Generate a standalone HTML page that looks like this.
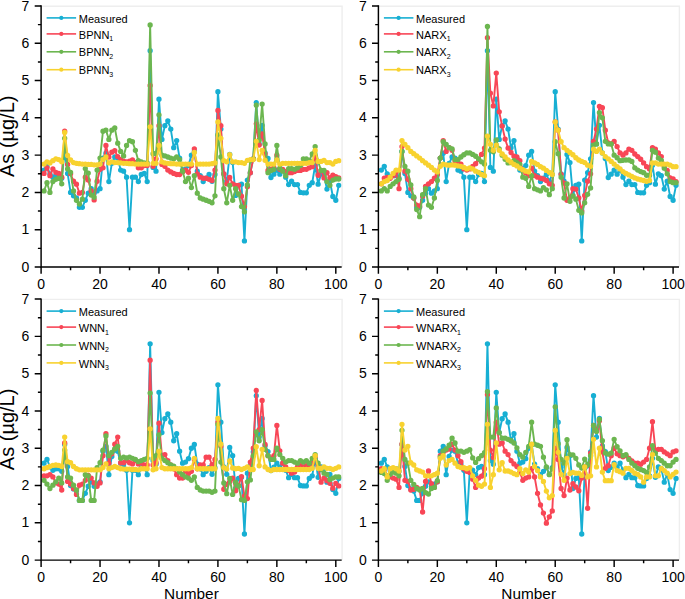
<!DOCTYPE html>
<html><head><meta charset="utf-8"><style>
html,body{margin:0;padding:0;background:#fff;width:685px;height:599px;overflow:hidden}
svg{display:block}
text{font-family:"Liberation Sans", sans-serif;fill:#000}
.t{font-size:14px}
.yl{font-size:20px}
.xl{font-size:15.4px}
.lg{font-size:11px}
.sub{font-size:7px}
</style></head><body>
<svg width="685" height="599" viewBox="0 0 685 599">
<defs><clipPath id="ctl"><rect x="41.1" y="2.9" width="300.59" height="264.1"/></clipPath><clipPath id="ctr"><rect x="378.4" y="2.9" width="300.59" height="264.1"/></clipPath><clipPath id="cbl"><rect x="41.1" y="296.1" width="300.59" height="264"/></clipPath><clipPath id="cbr"><rect x="378.4" y="296.1" width="300.59" height="264"/></clipPath></defs>
<path d="M41.1 6.2H342.09V267" fill="none" stroke="#eeeeee" stroke-width="1.4"/>
<g clip-path="url(#ctl)"><path d="M44.05 170.05 46.99 166.32 49.94 173.78 52.89 177.13 55.84 175.64 58.78 175.64 61.73 178.25 64.68 151.4 67.62 173.4 70.57 192.42 73.52 195.78 76.46 198.01 79.41 207.34 82.36 207.34 85.31 200.25 88.25 193.17 91.2 188.69 94.15 193.17 97.09 190.93 100.04 188.69 102.99 158.11 105.93 153.27 108.88 181.61 111.83 163.33 114.78 156.99 117.72 158.11 120.67 170.05 123.62 171.16 126.56 177.13 129.51 229.71 132.46 177.13 135.4 177.13 138.35 181.61 141.3 174.52 144.25 173.4 147.19 181.61 150.14 50.72 153.09 167.44 156.03 171.16 158.98 99.19 161.93 139.47 164.87 125.67 167.82 120.82 170.77 129.03 173.72 147.67 176.66 140.59 179.61 158.11 182.56 170.05 185.5 168.93 188.45 165.57 191.4 155.13 194.34 151.4 197.29 171.16 200.24 175.64 203.19 181.61 206.13 178.25 209.08 174.52 212.03 181.23 214.97 174.52 217.92 91.74 220.87 129.03 223.81 173.78 226.76 181.23 229.71 154.38 232.66 162.59 235.6 195.4 238.55 185.33 241.5 184.22 244.44 240.9 247.39 180.11 250.34 172.66 253.28 158.86 256.23 102.55 259.18 143.94 262.12 125.3 265.07 152.89 268.02 158.49 270.97 177.5 273.91 174.15 276.86 170.05 279.81 174.15 282.75 170.05 285.7 177.13 288.65 184.59 291.6 181.23 294.54 184.59 297.49 184.59 300.44 192.42 303.38 192.79 306.33 192.79 309.28 185.33 312.22 182.72 315.17 165.2 318.12 184.22 321.07 173.78 324.01 175.64 326.96 189.06 329.91 181.23 332.85 196.52 335.8 200.25 338.75 185.33" fill="none" stroke="#17afd3" stroke-width="1.9" stroke-linejoin="round"/>
<path d="M44.04 170.05h0.02M46.98 166.32h0.02M49.93 173.78h0.02M52.88 177.13h0.02M55.83 175.64h0.02M58.77 175.64h0.02M61.72 178.25h0.02M64.67 151.4h0.02M67.61 173.4h0.02M70.56 192.42h0.02M73.51 195.78h0.02M76.45 198.01h0.02M79.4 207.34h0.02M82.35 207.34h0.02M85.3 200.25h0.02M88.24 193.17h0.02M91.19 188.69h0.02M94.14 193.17h0.02M97.08 190.93h0.02M100.03 188.69h0.02M102.98 158.11h0.02M105.92 153.27h0.02M108.87 181.61h0.02M111.82 163.33h0.02M114.77 156.99h0.02M117.71 158.11h0.02M120.66 170.05h0.02M123.61 171.16h0.02M126.55 177.13h0.02M129.5 229.71h0.02M132.45 177.13h0.02M135.39 177.13h0.02M138.34 181.61h0.02M141.29 174.52h0.02M144.24 173.4h0.02M147.18 181.61h0.02M150.13 50.72h0.02M153.08 167.44h0.02M156.02 171.16h0.02M158.97 99.19h0.02M161.92 139.47h0.02M164.86 125.67h0.02M167.81 120.82h0.02M170.76 129.03h0.02M173.71 147.67h0.02M176.65 140.59h0.02M179.6 158.11h0.02M182.55 170.05h0.02M185.49 168.93h0.02M188.44 165.57h0.02M191.39 155.13h0.02M194.33 151.4h0.02M197.28 171.16h0.02M200.23 175.64h0.02M203.18 181.61h0.02M206.12 178.25h0.02M209.07 174.52h0.02M212.02 181.23h0.02M214.96 174.52h0.02M217.91 91.74h0.02M220.86 129.03h0.02M223.8 173.78h0.02M226.75 181.23h0.02M229.7 154.38h0.02M232.65 162.59h0.02M235.59 195.4h0.02M238.54 185.33h0.02M241.49 184.22h0.02M244.43 240.9h0.02M247.38 180.11h0.02M250.33 172.66h0.02M253.27 158.86h0.02M256.22 102.55h0.02M259.17 143.94h0.02M262.12 125.3h0.02M265.06 152.89h0.02M268.01 158.49h0.02M270.96 177.5h0.02M273.9 174.15h0.02M276.85 170.05h0.02M279.8 174.15h0.02M282.74 170.05h0.02M285.69 177.13h0.02M288.64 184.59h0.02M291.59 181.23h0.02M294.53 184.59h0.02M297.48 184.59h0.02M300.43 192.42h0.02M303.37 192.79h0.02M306.32 192.79h0.02M309.27 185.33h0.02M312.21 182.72h0.02M315.16 165.2h0.02M318.11 184.22h0.02M321.06 173.78h0.02M324 175.64h0.02M326.95 189.06h0.02M329.9 181.23h0.02M332.84 196.52h0.02M335.79 200.25h0.02M338.74 185.33h0.02" stroke="#17afd3" stroke-width="5.3" stroke-linecap="round"/></g>
<g clip-path="url(#ctl)"><path d="M44.05 173.4 46.99 167.81 49.94 175.64 52.89 168.93 55.84 172.28 58.78 173.4 61.73 177.13 64.68 131.26 67.62 164.45 70.57 173.78 73.52 181.23 76.46 184.22 79.41 193.17 82.36 192.42 85.31 177.13 88.25 180.11 91.2 190.93 94.15 199.88 97.09 181.23 100.04 169.3 102.99 167.81 105.93 145.43 108.88 156.99 111.83 152.15 114.78 150.66 117.72 156.62 120.67 159.6 123.62 161.1 126.56 161.84 129.51 161.1 132.46 159.98 135.4 162.59 138.35 167.81 141.3 167.81 144.25 165.57 147.19 165.57 150.14 85.4 153.09 166.32 156.03 158.86 158.98 125.67 161.93 164.45 164.87 166.32 167.82 170.05 170.77 171.91 173.72 173.4 176.66 174.52 179.61 174.52 182.56 171.91 185.5 170.05 188.45 172.28 191.4 165.57 194.34 148.79 197.29 173.78 200.24 177.13 203.19 178.25 206.13 178.25 209.08 179.37 212.03 180.49 214.97 170.05 217.92 110.38 220.87 125.67 223.81 173.78 226.76 183.84 229.71 177.5 232.66 183.84 235.6 185.33 238.55 185.33 241.5 196.15 244.44 206.59 247.39 186.83 250.34 172.66 253.28 158.86 256.23 123.81 259.18 145.06 262.12 133.87 265.07 154.01 268.02 170.42 270.97 169.3 273.91 167.81 276.86 155.13 279.81 169.3 282.75 169.3 285.7 171.54 288.65 172.66 291.6 172.66 294.54 171.54 297.49 170.42 300.44 170.42 303.38 169.3 306.33 169.3 309.28 167.81 312.22 166.69 315.17 156.62 318.12 175.27 321.07 170.42 324.01 177.88 326.96 172.66 329.91 177.88 332.85 175.27 335.8 176.76 338.75 177.88" fill="none" stroke="#f84656" stroke-width="1.9" stroke-linejoin="round"/>
<path d="M44.04 173.4h0.02M46.98 167.81h0.02M49.93 175.64h0.02M52.88 168.93h0.02M55.83 172.28h0.02M58.77 173.4h0.02M61.72 177.13h0.02M64.67 131.26h0.02M67.61 164.45h0.02M70.56 173.78h0.02M73.51 181.23h0.02M76.45 184.22h0.02M79.4 193.17h0.02M82.35 192.42h0.02M85.3 177.13h0.02M88.24 180.11h0.02M91.19 190.93h0.02M94.14 199.88h0.02M97.08 181.23h0.02M100.03 169.3h0.02M102.98 167.81h0.02M105.92 145.43h0.02M108.87 156.99h0.02M111.82 152.15h0.02M114.77 150.66h0.02M117.71 156.62h0.02M120.66 159.6h0.02M123.61 161.1h0.02M126.55 161.84h0.02M129.5 161.1h0.02M132.45 159.98h0.02M135.39 162.59h0.02M138.34 167.81h0.02M141.29 167.81h0.02M144.24 165.57h0.02M147.18 165.57h0.02M150.13 85.4h0.02M153.08 166.32h0.02M156.02 158.86h0.02M158.97 125.67h0.02M161.92 164.45h0.02M164.86 166.32h0.02M167.81 170.05h0.02M170.76 171.91h0.02M173.71 173.4h0.02M176.65 174.52h0.02M179.6 174.52h0.02M182.55 171.91h0.02M185.49 170.05h0.02M188.44 172.28h0.02M191.39 165.57h0.02M194.33 148.79h0.02M197.28 173.78h0.02M200.23 177.13h0.02M203.18 178.25h0.02M206.12 178.25h0.02M209.07 179.37h0.02M212.02 180.49h0.02M214.96 170.05h0.02M217.91 110.38h0.02M220.86 125.67h0.02M223.8 173.78h0.02M226.75 183.84h0.02M229.7 177.5h0.02M232.65 183.84h0.02M235.59 185.33h0.02M238.54 185.33h0.02M241.49 196.15h0.02M244.43 206.59h0.02M247.38 186.83h0.02M250.33 172.66h0.02M253.27 158.86h0.02M256.22 123.81h0.02M259.17 145.06h0.02M262.12 133.87h0.02M265.06 154.01h0.02M268.01 170.42h0.02M270.96 169.3h0.02M273.9 167.81h0.02M276.85 155.13h0.02M279.8 169.3h0.02M282.74 169.3h0.02M285.69 171.54h0.02M288.64 172.66h0.02M291.59 172.66h0.02M294.53 171.54h0.02M297.48 170.42h0.02M300.43 170.42h0.02M303.37 169.3h0.02M306.32 169.3h0.02M309.27 167.81h0.02M312.21 166.69h0.02M315.16 156.62h0.02M318.11 175.27h0.02M321.06 170.42h0.02M324 177.88h0.02M326.95 172.66h0.02M329.9 177.88h0.02M332.84 175.27h0.02M335.79 176.76h0.02M338.74 177.88h0.02" stroke="#f84656" stroke-width="5.3" stroke-linecap="round"/></g>
<g clip-path="url(#ctl)"><path d="M44.05 190.93 46.99 182.72 49.94 192.42 52.89 181.61 55.84 179.37 58.78 178.25 61.73 183.84 64.68 138.35 67.62 168.93 70.57 172.28 73.52 190.93 76.46 200.25 79.41 203.98 82.36 199.13 85.31 168.55 88.25 173.03 91.2 195.03 94.15 197.27 97.09 170.05 100.04 158.11 102.99 131.26 105.93 130.15 108.88 139.47 111.83 130.15 114.78 127.91 117.72 143.2 120.67 151.4 123.62 155.88 126.56 145.43 129.51 140.59 132.46 141.71 135.4 150.28 138.35 160.72 141.3 161.84 144.25 162.96 147.19 162.96 150.14 24.99 153.09 153.64 156.03 153.27 158.98 114.86 161.93 155.13 164.87 155.88 167.82 156.99 170.77 158.11 173.72 158.86 176.66 156.99 179.61 159.6 182.56 171.16 185.5 181.61 188.45 178.25 191.4 187.57 194.34 175.64 197.29 193.17 200.24 198.01 203.19 199.13 206.13 200.25 209.08 201.37 212.03 202.86 214.97 195.78 217.92 134.99 220.87 156.99 223.81 188.69 226.76 202.86 229.71 185.33 232.66 200.25 235.6 188.69 238.55 193.91 241.5 206.59 244.44 211.81 247.39 184.96 250.34 160.35 253.28 158.86 256.23 105.16 259.18 140.21 262.12 104.04 265.07 143.94 268.02 172.66 270.97 170.42 273.91 169.3 276.86 145.43 279.81 168.18 282.75 171.16 285.7 175.64 288.65 168.55 291.6 168.55 294.54 169.3 297.49 167.81 300.44 165.57 303.38 158.86 306.33 158.86 309.28 160.35 312.22 154.01 315.17 146.55 318.12 161.47 321.07 170.42 324.01 170.42 326.96 181.61 329.91 185.33 332.85 180.11 335.8 179 338.75 179" fill="none" stroke="#6cb650" stroke-width="1.9" stroke-linejoin="round"/>
<path d="M44.04 190.93h0.02M46.98 182.72h0.02M49.93 192.42h0.02M52.88 181.61h0.02M55.83 179.37h0.02M58.77 178.25h0.02M61.72 183.84h0.02M64.67 138.35h0.02M67.61 168.93h0.02M70.56 172.28h0.02M73.51 190.93h0.02M76.45 200.25h0.02M79.4 203.98h0.02M82.35 199.13h0.02M85.3 168.55h0.02M88.24 173.03h0.02M91.19 195.03h0.02M94.14 197.27h0.02M97.08 170.05h0.02M100.03 158.11h0.02M102.98 131.26h0.02M105.92 130.15h0.02M108.87 139.47h0.02M111.82 130.15h0.02M114.77 127.91h0.02M117.71 143.2h0.02M120.66 151.4h0.02M123.61 155.88h0.02M126.55 145.43h0.02M129.5 140.59h0.02M132.45 141.71h0.02M135.39 150.28h0.02M138.34 160.72h0.02M141.29 161.84h0.02M144.24 162.96h0.02M147.18 162.96h0.02M150.13 24.99h0.02M153.08 153.64h0.02M156.02 153.27h0.02M158.97 114.86h0.02M161.92 155.13h0.02M164.86 155.88h0.02M167.81 156.99h0.02M170.76 158.11h0.02M173.71 158.86h0.02M176.65 156.99h0.02M179.6 159.6h0.02M182.55 171.16h0.02M185.49 181.61h0.02M188.44 178.25h0.02M191.39 187.57h0.02M194.33 175.64h0.02M197.28 193.17h0.02M200.23 198.01h0.02M203.18 199.13h0.02M206.12 200.25h0.02M209.07 201.37h0.02M212.02 202.86h0.02M214.96 195.78h0.02M217.91 134.99h0.02M220.86 156.99h0.02M223.8 188.69h0.02M226.75 202.86h0.02M229.7 185.33h0.02M232.65 200.25h0.02M235.59 188.69h0.02M238.54 193.91h0.02M241.49 206.59h0.02M244.43 211.81h0.02M247.38 184.96h0.02M250.33 160.35h0.02M253.27 158.86h0.02M256.22 105.16h0.02M259.17 140.21h0.02M262.12 104.04h0.02M265.06 143.94h0.02M268.01 172.66h0.02M270.96 170.42h0.02M273.9 169.3h0.02M276.85 145.43h0.02M279.8 168.18h0.02M282.74 171.16h0.02M285.69 175.64h0.02M288.64 168.55h0.02M291.59 168.55h0.02M294.53 169.3h0.02M297.48 167.81h0.02M300.43 165.57h0.02M303.37 158.86h0.02M306.32 158.86h0.02M309.27 160.35h0.02M312.21 154.01h0.02M315.16 146.55h0.02M318.11 161.47h0.02M321.06 170.42h0.02M324 170.42h0.02M326.95 181.61h0.02M329.9 185.33h0.02M332.84 180.11h0.02M335.79 179h0.02M338.74 179h0.02" stroke="#6cb650" stroke-width="5.3" stroke-linecap="round"/></g>
<g clip-path="url(#ctl)"><path d="M44.05 164.08 46.99 161.84 49.94 162.96 52.89 160.72 55.84 158.86 58.78 159.6 61.73 161.84 64.68 132.38 67.62 155.5 70.57 159.98 73.52 162.59 76.46 163.33 79.41 163.71 82.36 164.08 85.31 164.08 88.25 164.45 91.2 164.45 94.15 164.83 97.09 164.83 100.04 164.08 102.99 159.6 105.93 156.99 108.88 162.96 111.83 161.84 114.78 162.59 117.72 162.59 120.67 162.96 123.62 163.33 126.56 163.33 129.51 163.71 132.46 163.71 135.4 164.08 138.35 164.08 141.3 164.08 144.25 164.08 147.19 164.08 150.14 126.79 153.09 163.33 156.03 163.33 158.98 145.43 161.93 161.84 164.87 162.96 167.82 163.33 170.77 163.71 173.72 163.71 176.66 164.08 179.61 164.08 182.56 164.08 185.5 164.08 188.45 164.08 191.4 164.08 194.34 152.52 197.29 164.08 200.24 164.08 203.19 164.08 206.13 164.08 209.08 164.08 212.03 163.71 214.97 162.96 217.92 121.94 220.87 138.35 223.81 160.72 226.76 161.84 229.71 154.76 232.66 161.84 235.6 161.84 238.55 162.59 241.5 162.59 244.44 163.33 247.39 160.35 250.34 159.6 253.28 159.6 256.23 141.33 259.18 159.6 262.12 150.28 265.07 160.35 268.02 164.08 270.97 164.08 273.91 164.08 276.86 159.98 279.81 164.08 282.75 163.33 285.7 163.33 288.65 163.33 291.6 163.33 294.54 163.33 297.49 163.33 300.44 163.33 303.38 163.33 306.33 163.33 309.28 162.59 312.22 162.59 315.17 150.28 318.12 161.47 321.07 161.47 324.01 160.35 326.96 162.59 329.91 162.59 332.85 164.08 335.8 161.47 338.75 160.72" fill="none" stroke="#f8d22f" stroke-width="1.9" stroke-linejoin="round"/>
<path d="M44.04 164.08h0.02M46.98 161.84h0.02M49.93 162.96h0.02M52.88 160.72h0.02M55.83 158.86h0.02M58.77 159.6h0.02M61.72 161.84h0.02M64.67 132.38h0.02M67.61 155.5h0.02M70.56 159.98h0.02M73.51 162.59h0.02M76.45 163.33h0.02M79.4 163.71h0.02M82.35 164.08h0.02M85.3 164.08h0.02M88.24 164.45h0.02M91.19 164.45h0.02M94.14 164.83h0.02M97.08 164.83h0.02M100.03 164.08h0.02M102.98 159.6h0.02M105.92 156.99h0.02M108.87 162.96h0.02M111.82 161.84h0.02M114.77 162.59h0.02M117.71 162.59h0.02M120.66 162.96h0.02M123.61 163.33h0.02M126.55 163.33h0.02M129.5 163.71h0.02M132.45 163.71h0.02M135.39 164.08h0.02M138.34 164.08h0.02M141.29 164.08h0.02M144.24 164.08h0.02M147.18 164.08h0.02M150.13 126.79h0.02M153.08 163.33h0.02M156.02 163.33h0.02M158.97 145.43h0.02M161.92 161.84h0.02M164.86 162.96h0.02M167.81 163.33h0.02M170.76 163.71h0.02M173.71 163.71h0.02M176.65 164.08h0.02M179.6 164.08h0.02M182.55 164.08h0.02M185.49 164.08h0.02M188.44 164.08h0.02M191.39 164.08h0.02M194.33 152.52h0.02M197.28 164.08h0.02M200.23 164.08h0.02M203.18 164.08h0.02M206.12 164.08h0.02M209.07 164.08h0.02M212.02 163.71h0.02M214.96 162.96h0.02M217.91 121.94h0.02M220.86 138.35h0.02M223.8 160.72h0.02M226.75 161.84h0.02M229.7 154.76h0.02M232.65 161.84h0.02M235.59 161.84h0.02M238.54 162.59h0.02M241.49 162.59h0.02M244.43 163.33h0.02M247.38 160.35h0.02M250.33 159.6h0.02M253.27 159.6h0.02M256.22 141.33h0.02M259.17 159.6h0.02M262.12 150.28h0.02M265.06 160.35h0.02M268.01 164.08h0.02M270.96 164.08h0.02M273.9 164.08h0.02M276.85 159.98h0.02M279.8 164.08h0.02M282.74 163.33h0.02M285.69 163.33h0.02M288.64 163.33h0.02M291.59 163.33h0.02M294.53 163.33h0.02M297.48 163.33h0.02M300.43 163.33h0.02M303.37 163.33h0.02M306.32 163.33h0.02M309.27 162.59h0.02M312.21 162.59h0.02M315.16 150.28h0.02M318.11 161.47h0.02M321.06 161.47h0.02M324 160.35h0.02M326.95 162.59h0.02M329.9 162.59h0.02M332.84 164.08h0.02M335.79 161.47h0.02M338.74 160.72h0.02" stroke="#f8d22f" stroke-width="5.3" stroke-linecap="round"/></g>
<path d="M41.1 5.3V267H341.69" fill="none" stroke="#000" stroke-width="1.45"/>
<path d="M41.1 267h-6.4M41.1 229.71h-6.4M41.1 192.42h-6.4M41.1 155.13h-6.4M41.1 117.84h-6.4M41.1 80.55h-6.4M41.1 43.26h-6.4M41.1 5.97h-6.4M41.1 248.35h-3.2M41.1 211.06h-3.2M41.1 173.78h-3.2M41.1 136.49h-3.2M41.1 99.19h-3.2M41.1 61.91h-3.2M41.1 24.62h-3.2M41.1 267v6.8M100.04 267v6.8M158.98 267v6.8M217.92 267v6.8M276.86 267v6.8M335.8 267v6.8M70.57 267v3.2M129.51 267v3.2M188.45 267v3.2M247.39 267v3.2M306.33 267v3.2" stroke="#000" stroke-width="1.45"/>
<text x="29.4" y="271.6" text-anchor="end" class="t">0</text>
<text x="29.4" y="234.31" text-anchor="end" class="t">1</text>
<text x="29.4" y="197.02" text-anchor="end" class="t">2</text>
<text x="29.4" y="159.73" text-anchor="end" class="t">3</text>
<text x="29.4" y="122.44" text-anchor="end" class="t">4</text>
<text x="29.4" y="85.15" text-anchor="end" class="t">5</text>
<text x="29.4" y="47.86" text-anchor="end" class="t">6</text>
<text x="29.4" y="10.57" text-anchor="end" class="t">7</text>
<text x="41.1" y="289" text-anchor="middle" class="t">0</text>
<text x="100.04" y="289" text-anchor="middle" class="t">20</text>
<text x="158.98" y="289" text-anchor="middle" class="t">40</text>
<text x="217.92" y="289" text-anchor="middle" class="t">60</text>
<text x="276.86" y="289" text-anchor="middle" class="t">80</text>
<text x="335.8" y="289" text-anchor="middle" class="t">100</text>
<text transform="translate(14.2 136.25) rotate(-90)" text-anchor="middle" class="yl">As (µg/L)</text>
<path d="M46.6 17.9H76.1" stroke="#17afd3" stroke-width="1.6"/>
<circle cx="61.3" cy="17.9" r="2.1" fill="#17afd3"/>
<text x="78.8" y="22.7" class="lg">Measured</text>
<path d="M46.6 33.9H76.1" stroke="#f84656" stroke-width="1.6"/>
<circle cx="61.3" cy="33.9" r="2.1" fill="#f84656"/>
<text x="78.8" y="38.5" class="lg">BPNN<tspan class="sub" dy="2.8">1</tspan></text>
<path d="M46.6 51.8H76.1" stroke="#6cb650" stroke-width="1.6"/>
<circle cx="61.3" cy="51.8" r="2.1" fill="#6cb650"/>
<text x="78.8" y="56.4" class="lg">BPNN<tspan class="sub" dy="2.8">2</tspan></text>
<path d="M46.6 69.7H76.1" stroke="#f8d22f" stroke-width="1.6"/>
<circle cx="61.3" cy="69.7" r="2.1" fill="#f8d22f"/>
<text x="78.8" y="74.3" class="lg">BPNN<tspan class="sub" dy="2.8">3</tspan></text>
<path d="M378.4 6.2H679.39V267" fill="none" stroke="#eeeeee" stroke-width="1.4"/>
<g clip-path="url(#ctr)"><path d="M381.35 170.05 384.29 166.32 387.24 173.78 390.19 177.13 393.13 175.64 396.08 175.64 399.03 178.25 401.98 151.4 404.92 173.4 407.87 192.42 410.82 195.78 413.76 198.01 416.71 207.34 419.66 207.34 422.6 200.25 425.55 193.17 428.5 188.69 431.45 193.17 434.39 190.93 437.34 188.69 440.29 158.11 443.23 153.27 446.18 181.61 449.13 163.33 452.07 156.99 455.02 158.11 457.97 170.05 460.92 171.16 463.86 177.13 466.81 229.71 469.76 177.13 472.7 177.13 475.65 181.61 478.6 174.52 481.54 173.4 484.49 181.61 487.44 50.72 490.39 167.44 493.33 171.16 496.28 99.19 499.23 139.47 502.17 125.67 505.12 120.82 508.07 129.03 511.01 147.67 513.96 140.59 516.91 158.11 519.86 170.05 522.8 168.93 525.75 165.57 528.7 155.13 531.64 151.4 534.59 171.16 537.54 175.64 540.49 181.61 543.43 178.25 546.38 174.52 549.33 181.23 552.27 174.52 555.22 91.74 558.17 129.03 561.11 173.78 564.06 181.23 567.01 154.38 569.95 162.59 572.9 195.4 575.85 185.33 578.8 184.22 581.74 240.9 584.69 180.11 587.64 172.66 590.58 158.86 593.53 102.55 596.48 143.94 599.42 125.3 602.37 152.89 605.32 158.49 608.27 177.5 611.21 174.15 614.16 170.05 617.11 174.15 620.05 170.05 623 177.13 625.95 184.59 628.89 181.23 631.84 184.59 634.79 184.59 637.74 192.42 640.68 192.79 643.63 192.79 646.58 185.33 649.52 182.72 652.47 165.2 655.42 184.22 658.37 173.78 661.31 175.64 664.26 189.06 667.21 181.23 670.15 196.52 673.1 200.25 676.05 185.33" fill="none" stroke="#17afd3" stroke-width="1.9" stroke-linejoin="round"/>
<path d="M381.34 170.05h0.02M384.28 166.32h0.02M387.23 173.78h0.02M390.18 177.13h0.02M393.12 175.64h0.02M396.07 175.64h0.02M399.02 178.25h0.02M401.97 151.4h0.02M404.91 173.4h0.02M407.86 192.42h0.02M410.81 195.78h0.02M413.75 198.01h0.02M416.7 207.34h0.02M419.65 207.34h0.02M422.59 200.25h0.02M425.54 193.17h0.02M428.49 188.69h0.02M431.44 193.17h0.02M434.38 190.93h0.02M437.33 188.69h0.02M440.28 158.11h0.02M443.22 153.27h0.02M446.17 181.61h0.02M449.12 163.33h0.02M452.06 156.99h0.02M455.01 158.11h0.02M457.96 170.05h0.02M460.91 171.16h0.02M463.85 177.13h0.02M466.8 229.71h0.02M469.75 177.13h0.02M472.69 177.13h0.02M475.64 181.61h0.02M478.59 174.52h0.02M481.53 173.4h0.02M484.48 181.61h0.02M487.43 50.72h0.02M490.38 167.44h0.02M493.32 171.16h0.02M496.27 99.19h0.02M499.22 139.47h0.02M502.16 125.67h0.02M505.11 120.82h0.02M508.06 129.03h0.02M511 147.67h0.02M513.95 140.59h0.02M516.9 158.11h0.02M519.85 170.05h0.02M522.79 168.93h0.02M525.74 165.57h0.02M528.69 155.13h0.02M531.63 151.4h0.02M534.58 171.16h0.02M537.53 175.64h0.02M540.48 181.61h0.02M543.42 178.25h0.02M546.37 174.52h0.02M549.32 181.23h0.02M552.26 174.52h0.02M555.21 91.74h0.02M558.16 129.03h0.02M561.1 173.78h0.02M564.05 181.23h0.02M567 154.38h0.02M569.94 162.59h0.02M572.89 195.4h0.02M575.84 185.33h0.02M578.79 184.22h0.02M581.73 240.9h0.02M584.68 180.11h0.02M587.63 172.66h0.02M590.57 158.86h0.02M593.52 102.55h0.02M596.47 143.94h0.02M599.41 125.3h0.02M602.36 152.89h0.02M605.31 158.49h0.02M608.26 177.5h0.02M611.2 174.15h0.02M614.15 170.05h0.02M617.1 174.15h0.02M620.04 170.05h0.02M622.99 177.13h0.02M625.94 184.59h0.02M628.88 181.23h0.02M631.83 184.59h0.02M634.78 184.59h0.02M637.73 192.42h0.02M640.67 192.79h0.02M643.62 192.79h0.02M646.57 185.33h0.02M649.51 182.72h0.02M652.46 165.2h0.02M655.41 184.22h0.02M658.36 173.78h0.02M661.3 175.64h0.02M664.25 189.06h0.02M667.2 181.23h0.02M670.14 196.52h0.02M673.09 200.25h0.02M676.04 185.33h0.02" stroke="#17afd3" stroke-width="5.3" stroke-linecap="round"/></g>
<g clip-path="url(#ctr)"><path d="M381.35 183.84 384.29 178.25 387.24 177.5 390.19 178.25 393.13 175.64 396.08 171.91 399.03 188.69 401.98 146.55 404.92 171.16 407.87 179.37 410.82 188.69 413.76 198.01 416.71 205.1 419.66 206.22 422.6 196.15 425.55 186.45 428.5 183.84 431.45 181.61 434.39 178.25 437.34 174.52 440.29 158.11 443.23 140.59 446.18 151.4 449.13 147.67 452.07 150.28 455.02 160.72 457.97 162.96 460.92 164.08 463.86 168.93 466.81 170.05 469.76 168.93 472.7 166.32 475.65 163.71 478.6 159.6 481.54 154.38 484.49 148.04 487.44 37.67 490.39 93.23 493.33 105.91 496.28 73.09 499.23 111.87 502.17 126.04 505.12 139.1 508.07 148.04 511.01 152.52 513.96 156.25 516.91 156.99 519.86 160.72 522.8 170.05 525.75 173.03 528.7 175.64 531.64 168.18 534.59 175.64 537.54 177.13 540.49 178.25 543.43 179 546.38 180.49 549.33 183.84 552.27 185.33 555.22 121.94 558.17 130.15 561.11 174.52 564.06 183.1 567.01 200.25 569.95 198.01 572.9 188.69 575.85 189.06 578.8 198.01 581.74 211.06 584.69 195.4 587.64 181.23 590.58 173.78 593.53 141.33 596.48 129.03 599.42 106.28 602.37 107.77 605.32 130.15 608.27 142.82 611.21 143.94 614.16 141.33 617.11 146.55 620.05 152.89 623 155.13 625.95 152.89 628.89 149.16 631.84 150.28 634.79 154.01 637.74 156.62 640.68 159.23 643.63 162.96 646.58 166.69 649.52 168.93 652.47 147.67 655.42 149.16 658.37 152.89 661.31 156.62 664.26 166.32 667.21 170.42 670.15 177.88 673.1 179 676.05 181.61" fill="none" stroke="#f84656" stroke-width="1.9" stroke-linejoin="round"/>
<path d="M381.34 183.84h0.02M384.28 178.25h0.02M387.23 177.5h0.02M390.18 178.25h0.02M393.12 175.64h0.02M396.07 171.91h0.02M399.02 188.69h0.02M401.97 146.55h0.02M404.91 171.16h0.02M407.86 179.37h0.02M410.81 188.69h0.02M413.75 198.01h0.02M416.7 205.1h0.02M419.65 206.22h0.02M422.59 196.15h0.02M425.54 186.45h0.02M428.49 183.84h0.02M431.44 181.61h0.02M434.38 178.25h0.02M437.33 174.52h0.02M440.28 158.11h0.02M443.22 140.59h0.02M446.17 151.4h0.02M449.12 147.67h0.02M452.06 150.28h0.02M455.01 160.72h0.02M457.96 162.96h0.02M460.91 164.08h0.02M463.85 168.93h0.02M466.8 170.05h0.02M469.75 168.93h0.02M472.69 166.32h0.02M475.64 163.71h0.02M478.59 159.6h0.02M481.53 154.38h0.02M484.48 148.04h0.02M487.43 37.67h0.02M490.38 93.23h0.02M493.32 105.91h0.02M496.27 73.09h0.02M499.22 111.87h0.02M502.16 126.04h0.02M505.11 139.1h0.02M508.06 148.04h0.02M511 152.52h0.02M513.95 156.25h0.02M516.9 156.99h0.02M519.85 160.72h0.02M522.79 170.05h0.02M525.74 173.03h0.02M528.69 175.64h0.02M531.63 168.18h0.02M534.58 175.64h0.02M537.53 177.13h0.02M540.48 178.25h0.02M543.42 179h0.02M546.37 180.49h0.02M549.32 183.84h0.02M552.26 185.33h0.02M555.21 121.94h0.02M558.16 130.15h0.02M561.1 174.52h0.02M564.05 183.1h0.02M567 200.25h0.02M569.94 198.01h0.02M572.89 188.69h0.02M575.84 189.06h0.02M578.79 198.01h0.02M581.73 211.06h0.02M584.68 195.4h0.02M587.63 181.23h0.02M590.57 173.78h0.02M593.52 141.33h0.02M596.47 129.03h0.02M599.41 106.28h0.02M602.36 107.77h0.02M605.31 130.15h0.02M608.26 142.82h0.02M611.2 143.94h0.02M614.15 141.33h0.02M617.1 146.55h0.02M620.04 152.89h0.02M622.99 155.13h0.02M625.94 152.89h0.02M628.88 149.16h0.02M631.83 150.28h0.02M634.78 154.01h0.02M637.73 156.62h0.02M640.67 159.23h0.02M643.62 162.96h0.02M646.57 166.69h0.02M649.51 168.93h0.02M652.46 147.67h0.02M655.41 149.16h0.02M658.36 152.89h0.02M661.3 156.62h0.02M664.25 166.32h0.02M667.2 170.42h0.02M670.14 177.88h0.02M673.09 179h0.02M676.04 181.61h0.02" stroke="#f84656" stroke-width="5.3" stroke-linecap="round"/></g>
<g clip-path="url(#ctr)"><path d="M381.35 190.93 384.29 188.69 387.24 190.93 390.19 186.45 393.13 183.84 396.08 181.61 399.03 179.37 401.98 151.4 404.92 166.32 407.87 171.16 410.82 184.96 413.76 196.89 416.71 209.57 419.66 216.66 422.6 194.66 425.55 188.69 428.5 205.1 431.45 207.34 434.39 198.01 437.34 180.49 440.29 158.11 443.23 141.71 446.18 144.32 449.13 147.67 452.07 148.79 455.02 159.6 457.97 159.6 460.92 156.99 463.86 154.76 466.81 152.89 469.76 152.89 472.7 154.38 475.65 156.25 478.6 158.86 481.54 161.84 484.49 164.08 487.44 26.48 490.39 150.28 493.33 151.77 496.28 139.84 499.23 148.79 502.17 155.13 505.12 159.23 508.07 162.96 511.01 162.59 513.96 160.72 516.91 162.59 519.86 164.45 522.8 177.13 525.75 178.25 528.7 186.45 531.64 175.64 534.59 188.69 537.54 189.81 540.49 190.93 543.43 187.57 546.38 189.81 549.33 194.66 552.27 188.69 555.22 141.71 558.17 153.64 561.11 177.13 564.06 198.01 567.01 183.84 569.95 201.37 572.9 195.78 575.85 199.13 578.8 210.32 581.74 212.93 584.69 202.86 587.64 194.28 590.58 187.95 593.53 145.06 596.48 143.94 599.42 112.62 602.37 117.84 605.32 141.33 608.27 143.94 611.21 143.94 614.16 155.13 617.11 157.74 620.05 160.72 623 160.35 625.95 159.98 628.89 159.98 631.84 161.47 634.79 167.81 637.74 170.05 640.68 171.54 643.63 172.66 646.58 175.27 649.52 175.27 652.47 150.28 655.42 152.15 658.37 158.11 661.31 160.35 664.26 168.18 667.21 173.78 670.15 181.61 673.1 182.72 676.05 182.72" fill="none" stroke="#6cb650" stroke-width="1.9" stroke-linejoin="round"/>
<path d="M381.34 190.93h0.02M384.28 188.69h0.02M387.23 190.93h0.02M390.18 186.45h0.02M393.12 183.84h0.02M396.07 181.61h0.02M399.02 179.37h0.02M401.97 151.4h0.02M404.91 166.32h0.02M407.86 171.16h0.02M410.81 184.96h0.02M413.75 196.89h0.02M416.7 209.57h0.02M419.65 216.66h0.02M422.59 194.66h0.02M425.54 188.69h0.02M428.49 205.1h0.02M431.44 207.34h0.02M434.38 198.01h0.02M437.33 180.49h0.02M440.28 158.11h0.02M443.22 141.71h0.02M446.17 144.32h0.02M449.12 147.67h0.02M452.06 148.79h0.02M455.01 159.6h0.02M457.96 159.6h0.02M460.91 156.99h0.02M463.85 154.76h0.02M466.8 152.89h0.02M469.75 152.89h0.02M472.69 154.38h0.02M475.64 156.25h0.02M478.59 158.86h0.02M481.53 161.84h0.02M484.48 164.08h0.02M487.43 26.48h0.02M490.38 150.28h0.02M493.32 151.77h0.02M496.27 139.84h0.02M499.22 148.79h0.02M502.16 155.13h0.02M505.11 159.23h0.02M508.06 162.96h0.02M511 162.59h0.02M513.95 160.72h0.02M516.9 162.59h0.02M519.85 164.45h0.02M522.79 177.13h0.02M525.74 178.25h0.02M528.69 186.45h0.02M531.63 175.64h0.02M534.58 188.69h0.02M537.53 189.81h0.02M540.48 190.93h0.02M543.42 187.57h0.02M546.37 189.81h0.02M549.32 194.66h0.02M552.26 188.69h0.02M555.21 141.71h0.02M558.16 153.64h0.02M561.1 177.13h0.02M564.05 198.01h0.02M567 183.84h0.02M569.94 201.37h0.02M572.89 195.78h0.02M575.84 199.13h0.02M578.79 210.32h0.02M581.73 212.93h0.02M584.68 202.86h0.02M587.63 194.28h0.02M590.57 187.95h0.02M593.52 145.06h0.02M596.47 143.94h0.02M599.41 112.62h0.02M602.36 117.84h0.02M605.31 141.33h0.02M608.26 143.94h0.02M611.2 143.94h0.02M614.15 155.13h0.02M617.1 157.74h0.02M620.04 160.72h0.02M622.99 160.35h0.02M625.94 159.98h0.02M628.88 159.98h0.02M631.83 161.47h0.02M634.78 167.81h0.02M637.73 170.05h0.02M640.67 171.54h0.02M643.62 172.66h0.02M646.57 175.27h0.02M649.51 175.27h0.02M652.46 150.28h0.02M655.41 152.15h0.02M658.36 158.11h0.02M661.3 160.35h0.02M664.25 168.18h0.02M667.2 173.78h0.02M670.14 181.61h0.02M673.09 182.72h0.02M676.04 182.72h0.02" stroke="#6cb650" stroke-width="5.3" stroke-linecap="round"/></g>
<g clip-path="url(#ctr)"><path d="M381.35 183.84 384.29 181.61 387.24 180.49 390.19 177.13 393.13 173.4 396.08 170.05 399.03 170.05 401.98 140.59 404.92 144.32 407.87 147.67 410.82 151.4 413.76 153.64 416.71 155.88 419.66 158.11 422.6 160.72 425.55 162.96 428.5 165.2 431.45 167.44 434.39 170.05 437.34 171.91 440.29 166.32 443.23 164.08 446.18 164.83 449.13 165.2 452.07 164.83 455.02 165.2 457.97 165.94 460.92 166.32 463.86 167.44 466.81 168.93 469.76 167.81 472.7 168.93 475.65 171.16 478.6 172.28 481.54 174.52 484.49 175.64 487.44 136.11 490.39 144.32 493.33 150.28 496.28 145.06 499.23 150.28 502.17 154.01 505.12 156.99 508.07 159.98 511.01 162.22 513.96 164.45 516.91 165.94 519.86 168.18 522.8 169.67 525.75 171.16 528.7 171.91 531.64 161.47 534.59 162.96 537.54 164.45 540.49 166.69 543.43 168.18 546.38 170.42 549.33 172.28 552.27 174.52 555.22 121.94 558.17 130.15 561.11 141.71 564.06 147.67 567.01 150.28 569.95 152.52 572.9 154.76 575.85 157.74 578.8 159.98 581.74 161.47 584.69 162.59 587.64 165.2 590.58 166.32 593.53 149.16 596.48 151.4 599.42 149.16 602.37 152.89 605.32 156.62 608.27 158.86 611.21 161.47 614.16 164.08 617.11 166.69 620.05 168.93 623 171.54 625.95 173.4 628.89 174.89 631.84 176.39 634.79 177.88 637.74 179 640.68 179.74 643.63 180.49 646.58 181.23 649.52 180.49 652.47 162.96 655.42 162.96 658.37 164.08 661.31 164.08 664.26 164.08 667.21 164.08 670.15 165.2 673.1 166.69 676.05 166.69" fill="none" stroke="#f8d22f" stroke-width="1.9" stroke-linejoin="round"/>
<path d="M381.34 183.84h0.02M384.28 181.61h0.02M387.23 180.49h0.02M390.18 177.13h0.02M393.12 173.4h0.02M396.07 170.05h0.02M399.02 170.05h0.02M401.97 140.59h0.02M404.91 144.32h0.02M407.86 147.67h0.02M410.81 151.4h0.02M413.75 153.64h0.02M416.7 155.88h0.02M419.65 158.11h0.02M422.59 160.72h0.02M425.54 162.96h0.02M428.49 165.2h0.02M431.44 167.44h0.02M434.38 170.05h0.02M437.33 171.91h0.02M440.28 166.32h0.02M443.22 164.08h0.02M446.17 164.83h0.02M449.12 165.2h0.02M452.06 164.83h0.02M455.01 165.2h0.02M457.96 165.94h0.02M460.91 166.32h0.02M463.85 167.44h0.02M466.8 168.93h0.02M469.75 167.81h0.02M472.69 168.93h0.02M475.64 171.16h0.02M478.59 172.28h0.02M481.53 174.52h0.02M484.48 175.64h0.02M487.43 136.11h0.02M490.38 144.32h0.02M493.32 150.28h0.02M496.27 145.06h0.02M499.22 150.28h0.02M502.16 154.01h0.02M505.11 156.99h0.02M508.06 159.98h0.02M511 162.22h0.02M513.95 164.45h0.02M516.9 165.94h0.02M519.85 168.18h0.02M522.79 169.67h0.02M525.74 171.16h0.02M528.69 171.91h0.02M531.63 161.47h0.02M534.58 162.96h0.02M537.53 164.45h0.02M540.48 166.69h0.02M543.42 168.18h0.02M546.37 170.42h0.02M549.32 172.28h0.02M552.26 174.52h0.02M555.21 121.94h0.02M558.16 130.15h0.02M561.1 141.71h0.02M564.05 147.67h0.02M567 150.28h0.02M569.94 152.52h0.02M572.89 154.76h0.02M575.84 157.74h0.02M578.79 159.98h0.02M581.73 161.47h0.02M584.68 162.59h0.02M587.63 165.2h0.02M590.57 166.32h0.02M593.52 149.16h0.02M596.47 151.4h0.02M599.41 149.16h0.02M602.36 152.89h0.02M605.31 156.62h0.02M608.26 158.86h0.02M611.2 161.47h0.02M614.15 164.08h0.02M617.1 166.69h0.02M620.04 168.93h0.02M622.99 171.54h0.02M625.94 173.4h0.02M628.88 174.89h0.02M631.83 176.39h0.02M634.78 177.88h0.02M637.73 179h0.02M640.67 179.74h0.02M643.62 180.49h0.02M646.57 181.23h0.02M649.51 180.49h0.02M652.46 162.96h0.02M655.41 162.96h0.02M658.36 164.08h0.02M661.3 164.08h0.02M664.25 164.08h0.02M667.2 164.08h0.02M670.14 165.2h0.02M673.09 166.69h0.02M676.04 166.69h0.02" stroke="#f8d22f" stroke-width="5.3" stroke-linecap="round"/></g>
<path d="M378.4 5.3V267H678.99" fill="none" stroke="#000" stroke-width="1.45"/>
<path d="M378.4 267h-6.4M378.4 229.71h-6.4M378.4 192.42h-6.4M378.4 155.13h-6.4M378.4 117.84h-6.4M378.4 80.55h-6.4M378.4 43.26h-6.4M378.4 5.97h-6.4M378.4 248.35h-3.2M378.4 211.06h-3.2M378.4 173.78h-3.2M378.4 136.49h-3.2M378.4 99.19h-3.2M378.4 61.91h-3.2M378.4 24.62h-3.2M378.4 267v6.8M437.34 267v6.8M496.28 267v6.8M555.22 267v6.8M614.16 267v6.8M673.1 267v6.8M407.87 267v3.2M466.81 267v3.2M525.75 267v3.2M584.69 267v3.2M643.63 267v3.2" stroke="#000" stroke-width="1.45"/>
<text x="366.7" y="271.6" text-anchor="end" class="t">0</text>
<text x="366.7" y="234.31" text-anchor="end" class="t">1</text>
<text x="366.7" y="197.02" text-anchor="end" class="t">2</text>
<text x="366.7" y="159.73" text-anchor="end" class="t">3</text>
<text x="366.7" y="122.44" text-anchor="end" class="t">4</text>
<text x="366.7" y="85.15" text-anchor="end" class="t">5</text>
<text x="366.7" y="47.86" text-anchor="end" class="t">6</text>
<text x="366.7" y="10.57" text-anchor="end" class="t">7</text>
<text x="378.4" y="289" text-anchor="middle" class="t">0</text>
<text x="437.34" y="289" text-anchor="middle" class="t">20</text>
<text x="496.28" y="289" text-anchor="middle" class="t">40</text>
<text x="555.22" y="289" text-anchor="middle" class="t">60</text>
<text x="614.16" y="289" text-anchor="middle" class="t">80</text>
<text x="673.1" y="289" text-anchor="middle" class="t">100</text>
<path d="M383.9 17.9H413.4" stroke="#17afd3" stroke-width="1.6"/>
<circle cx="398.6" cy="17.9" r="2.1" fill="#17afd3"/>
<text x="416.1" y="22.7" class="lg">Measured</text>
<path d="M383.9 33.9H413.4" stroke="#f84656" stroke-width="1.6"/>
<circle cx="398.6" cy="33.9" r="2.1" fill="#f84656"/>
<text x="416.1" y="38.5" class="lg">NARX<tspan class="sub" dy="2.8">1</tspan></text>
<path d="M383.9 51.8H413.4" stroke="#6cb650" stroke-width="1.6"/>
<circle cx="398.6" cy="51.8" r="2.1" fill="#6cb650"/>
<text x="416.1" y="56.4" class="lg">NARX<tspan class="sub" dy="2.8">2</tspan></text>
<path d="M383.9 69.7H413.4" stroke="#f8d22f" stroke-width="1.6"/>
<circle cx="398.6" cy="69.7" r="2.1" fill="#f8d22f"/>
<text x="416.1" y="74.3" class="lg">NARX<tspan class="sub" dy="2.8">3</tspan></text>
<path d="M41.1 299.4H342.09V560.1" fill="none" stroke="#eeeeee" stroke-width="1.4"/>
<g clip-path="url(#cbl)"><path d="M44.05 463.15 46.99 459.42 49.94 466.88 52.89 470.23 55.84 468.74 58.78 468.74 61.73 471.35 64.68 444.5 67.62 466.5 70.57 485.52 73.52 488.88 76.46 491.11 79.41 500.44 82.36 500.44 85.31 493.35 88.25 486.27 91.2 481.79 94.15 486.27 97.09 484.03 100.04 481.79 102.99 451.21 105.93 446.37 108.88 474.71 111.83 456.43 114.78 450.09 117.72 451.21 120.67 463.15 123.62 464.26 126.56 470.23 129.51 522.81 132.46 470.23 135.4 470.23 138.35 474.71 141.3 467.62 144.25 466.5 147.19 474.71 150.14 343.82 153.09 460.54 156.03 464.26 158.98 392.3 161.93 432.57 164.87 418.77 167.82 413.92 170.77 422.13 173.72 440.77 176.66 433.69 179.61 451.21 182.56 463.15 185.5 462.03 188.45 458.67 191.4 448.23 194.34 444.5 197.29 464.26 200.24 468.74 203.19 474.71 206.13 471.35 209.08 467.62 212.03 474.33 214.97 467.62 217.92 384.84 220.87 422.13 223.81 466.88 226.76 474.33 229.71 447.48 232.66 455.69 235.6 488.5 238.55 478.43 241.5 477.32 244.44 534 247.39 473.21 250.34 465.76 253.28 451.96 256.23 395.65 259.18 437.04 262.12 418.4 265.07 445.99 268.02 451.59 270.97 470.6 273.91 467.25 276.86 463.15 279.81 467.25 282.75 463.15 285.7 470.23 288.65 477.69 291.6 474.33 294.54 477.69 297.49 477.69 300.44 485.52 303.38 485.89 306.33 485.89 309.28 478.43 312.22 475.82 315.17 458.3 318.12 477.32 321.07 466.88 324.01 468.74 326.96 482.16 329.91 474.33 332.85 489.62 335.8 493.35 338.75 478.43" fill="none" stroke="#17afd3" stroke-width="1.9" stroke-linejoin="round"/>
<path d="M44.04 463.15h0.02M46.98 459.42h0.02M49.93 466.88h0.02M52.88 470.23h0.02M55.83 468.74h0.02M58.77 468.74h0.02M61.72 471.35h0.02M64.67 444.5h0.02M67.61 466.5h0.02M70.56 485.52h0.02M73.51 488.88h0.02M76.45 491.11h0.02M79.4 500.44h0.02M82.35 500.44h0.02M85.3 493.35h0.02M88.24 486.27h0.02M91.19 481.79h0.02M94.14 486.27h0.02M97.08 484.03h0.02M100.03 481.79h0.02M102.98 451.21h0.02M105.92 446.37h0.02M108.87 474.71h0.02M111.82 456.43h0.02M114.77 450.09h0.02M117.71 451.21h0.02M120.66 463.15h0.02M123.61 464.26h0.02M126.55 470.23h0.02M129.5 522.81h0.02M132.45 470.23h0.02M135.39 470.23h0.02M138.34 474.71h0.02M141.29 467.62h0.02M144.24 466.5h0.02M147.18 474.71h0.02M150.13 343.82h0.02M153.08 460.54h0.02M156.02 464.26h0.02M158.97 392.3h0.02M161.92 432.57h0.02M164.86 418.77h0.02M167.81 413.92h0.02M170.76 422.13h0.02M173.71 440.77h0.02M176.65 433.69h0.02M179.6 451.21h0.02M182.55 463.15h0.02M185.49 462.03h0.02M188.44 458.67h0.02M191.39 448.23h0.02M194.33 444.5h0.02M197.28 464.26h0.02M200.23 468.74h0.02M203.18 474.71h0.02M206.12 471.35h0.02M209.07 467.62h0.02M212.02 474.33h0.02M214.96 467.62h0.02M217.91 384.84h0.02M220.86 422.13h0.02M223.8 466.88h0.02M226.75 474.33h0.02M229.7 447.48h0.02M232.65 455.69h0.02M235.59 488.5h0.02M238.54 478.43h0.02M241.49 477.32h0.02M244.43 534h0.02M247.38 473.21h0.02M250.33 465.76h0.02M253.27 451.96h0.02M256.22 395.65h0.02M259.17 437.04h0.02M262.12 418.4h0.02M265.06 445.99h0.02M268.01 451.59h0.02M270.96 470.6h0.02M273.9 467.25h0.02M276.85 463.15h0.02M279.8 467.25h0.02M282.74 463.15h0.02M285.69 470.23h0.02M288.64 477.69h0.02M291.59 474.33h0.02M294.53 477.69h0.02M297.48 477.69h0.02M300.43 485.52h0.02M303.37 485.89h0.02M306.32 485.89h0.02M309.27 478.43h0.02M312.21 475.82h0.02M315.16 458.3h0.02M318.11 477.32h0.02M321.06 466.88h0.02M324 468.74h0.02M326.95 482.16h0.02M329.9 474.33h0.02M332.84 489.62h0.02M335.79 493.35h0.02M338.74 478.43h0.02" stroke="#17afd3" stroke-width="5.3" stroke-linecap="round"/></g>
<g clip-path="url(#cbl)"><path d="M44.05 475.82 46.99 475.82 49.94 474.71 52.89 476.94 55.84 482.91 58.78 484.03 61.73 489.99 64.68 443.01 67.62 481.42 70.57 484.03 73.52 488.5 76.46 494.47 79.41 485.15 82.36 484.03 85.31 480.3 88.25 475.45 91.2 478.06 94.15 482.91 97.09 486.27 100.04 482.91 102.99 455.69 105.93 433.69 108.88 463.15 111.83 453.82 114.78 444.13 117.72 437.04 120.67 462.77 123.62 462.77 126.56 460.54 129.51 462.77 132.46 463.89 135.4 460.54 138.35 463.89 141.3 462.77 144.25 465.01 147.19 465.01 150.14 360.23 153.09 465.01 156.03 462.77 158.98 423.25 161.93 455.69 164.87 454.57 167.82 460.54 170.77 465.01 173.72 468.74 176.66 474.71 179.61 478.06 182.56 478.06 185.5 470.98 188.45 473.59 191.4 471.35 194.34 459.42 197.29 468.74 200.24 465.01 203.19 465.01 206.13 457.18 209.08 457.18 212.03 465.01 214.97 459.42 217.92 422.13 220.87 446.37 223.81 489.25 226.76 484.4 229.71 481.79 232.66 478.06 235.6 490.74 238.55 485.52 241.5 476.57 244.44 495.96 247.39 498.57 250.34 462.03 253.28 448.23 256.23 390.43 259.18 429.59 262.12 400.5 265.07 444.5 268.02 455.69 270.97 458.3 273.91 455.69 276.86 425.48 279.81 450.84 282.75 463.15 285.7 466.88 288.65 470.6 291.6 473.21 294.54 472.1 297.49 466.88 300.44 465.76 303.38 466.88 306.33 465.76 309.28 464.64 312.22 463.15 315.17 456.81 318.12 465.76 321.07 482.16 324.01 478.06 326.96 480.67 329.91 483.28 332.85 488.13 335.8 483.28 338.75 485.89" fill="none" stroke="#f84656" stroke-width="1.9" stroke-linejoin="round"/>
<path d="M44.04 475.82h0.02M46.98 475.82h0.02M49.93 474.71h0.02M52.88 476.94h0.02M55.83 482.91h0.02M58.77 484.03h0.02M61.72 489.99h0.02M64.67 443.01h0.02M67.61 481.42h0.02M70.56 484.03h0.02M73.51 488.5h0.02M76.45 494.47h0.02M79.4 485.15h0.02M82.35 484.03h0.02M85.3 480.3h0.02M88.24 475.45h0.02M91.19 478.06h0.02M94.14 482.91h0.02M97.08 486.27h0.02M100.03 482.91h0.02M102.98 455.69h0.02M105.92 433.69h0.02M108.87 463.15h0.02M111.82 453.82h0.02M114.77 444.13h0.02M117.71 437.04h0.02M120.66 462.77h0.02M123.61 462.77h0.02M126.55 460.54h0.02M129.5 462.77h0.02M132.45 463.89h0.02M135.39 460.54h0.02M138.34 463.89h0.02M141.29 462.77h0.02M144.24 465.01h0.02M147.18 465.01h0.02M150.13 360.23h0.02M153.08 465.01h0.02M156.02 462.77h0.02M158.97 423.25h0.02M161.92 455.69h0.02M164.86 454.57h0.02M167.81 460.54h0.02M170.76 465.01h0.02M173.71 468.74h0.02M176.65 474.71h0.02M179.6 478.06h0.02M182.55 478.06h0.02M185.49 470.98h0.02M188.44 473.59h0.02M191.39 471.35h0.02M194.33 459.42h0.02M197.28 468.74h0.02M200.23 465.01h0.02M203.18 465.01h0.02M206.12 457.18h0.02M209.07 457.18h0.02M212.02 465.01h0.02M214.96 459.42h0.02M217.91 422.13h0.02M220.86 446.37h0.02M223.8 489.25h0.02M226.75 484.4h0.02M229.7 481.79h0.02M232.65 478.06h0.02M235.59 490.74h0.02M238.54 485.52h0.02M241.49 476.57h0.02M244.43 495.96h0.02M247.38 498.57h0.02M250.33 462.03h0.02M253.27 448.23h0.02M256.22 390.43h0.02M259.17 429.59h0.02M262.12 400.5h0.02M265.06 444.5h0.02M268.01 455.69h0.02M270.96 458.3h0.02M273.9 455.69h0.02M276.85 425.48h0.02M279.8 450.84h0.02M282.74 463.15h0.02M285.69 466.88h0.02M288.64 470.6h0.02M291.59 473.21h0.02M294.53 472.1h0.02M297.48 466.88h0.02M300.43 465.76h0.02M303.37 466.88h0.02M306.32 465.76h0.02M309.27 464.64h0.02M312.21 463.15h0.02M315.16 456.81h0.02M318.11 465.76h0.02M321.06 482.16h0.02M324 478.06h0.02M326.95 480.67h0.02M329.9 483.28h0.02M332.84 488.13h0.02M335.79 483.28h0.02M338.74 485.89h0.02" stroke="#f84656" stroke-width="5.3" stroke-linecap="round"/></g>
<g clip-path="url(#cbl)"><path d="M44.05 480.3 46.99 484.03 49.94 488.5 52.89 485.15 55.84 481.79 58.78 478.06 61.73 482.91 64.68 450.09 67.62 476.94 70.57 478.06 73.52 485.15 76.46 489.99 79.41 500.44 82.36 500.44 85.31 474.71 88.25 475.82 91.2 500.44 94.15 500.44 97.09 467.62 100.04 462.77 102.99 450.09 105.93 435.92 108.88 455.69 111.83 452.33 114.78 448.98 117.72 446.37 120.67 458.3 123.62 457.18 126.56 457.93 129.51 457.18 132.46 458.3 135.4 459.42 138.35 461.65 141.3 460.54 144.25 459.42 147.19 458.3 150.14 393.04 153.09 458.3 156.03 455.69 158.98 434.81 161.93 458.3 164.87 460.54 167.82 462.77 170.77 465.01 173.72 466.13 176.66 468.74 179.61 472.1 182.56 474.71 185.5 476.94 188.45 478.06 191.4 480.3 194.34 476.94 197.29 487.38 200.24 489.99 203.19 491.11 206.13 491.11 209.08 491.11 212.03 492.23 214.97 491.11 217.92 424.36 220.87 462.03 223.81 482.91 226.76 493.72 229.71 478.43 232.66 494.47 235.6 482.16 238.55 485.89 241.5 499.69 244.44 500.44 247.39 481.79 250.34 479.93 253.28 455.69 256.23 431.82 259.18 440.77 262.12 429.59 265.07 449.35 268.02 455.69 270.97 459.42 273.91 459.42 276.86 448.23 279.81 454.57 282.75 458.3 285.7 462.03 288.65 460.54 291.6 460.54 294.54 462.03 297.49 463.15 300.44 460.54 303.38 462.03 306.33 460.54 309.28 463.15 312.22 458.3 315.17 454.57 318.12 463.15 321.07 469.49 324.01 473.21 326.96 474.33 329.91 479.55 332.85 478.06 335.8 476.94 338.75 476.94" fill="none" stroke="#6cb650" stroke-width="1.9" stroke-linejoin="round"/>
<path d="M44.04 480.3h0.02M46.98 484.03h0.02M49.93 488.5h0.02M52.88 485.15h0.02M55.83 481.79h0.02M58.77 478.06h0.02M61.72 482.91h0.02M64.67 450.09h0.02M67.61 476.94h0.02M70.56 478.06h0.02M73.51 485.15h0.02M76.45 489.99h0.02M79.4 500.44h0.02M82.35 500.44h0.02M85.3 474.71h0.02M88.24 475.82h0.02M91.19 500.44h0.02M94.14 500.44h0.02M97.08 467.62h0.02M100.03 462.77h0.02M102.98 450.09h0.02M105.92 435.92h0.02M108.87 455.69h0.02M111.82 452.33h0.02M114.77 448.98h0.02M117.71 446.37h0.02M120.66 458.3h0.02M123.61 457.18h0.02M126.55 457.93h0.02M129.5 457.18h0.02M132.45 458.3h0.02M135.39 459.42h0.02M138.34 461.65h0.02M141.29 460.54h0.02M144.24 459.42h0.02M147.18 458.3h0.02M150.13 393.04h0.02M153.08 458.3h0.02M156.02 455.69h0.02M158.97 434.81h0.02M161.92 458.3h0.02M164.86 460.54h0.02M167.81 462.77h0.02M170.76 465.01h0.02M173.71 466.13h0.02M176.65 468.74h0.02M179.6 472.1h0.02M182.55 474.71h0.02M185.49 476.94h0.02M188.44 478.06h0.02M191.39 480.3h0.02M194.33 476.94h0.02M197.28 487.38h0.02M200.23 489.99h0.02M203.18 491.11h0.02M206.12 491.11h0.02M209.07 491.11h0.02M212.02 492.23h0.02M214.96 491.11h0.02M217.91 424.36h0.02M220.86 462.03h0.02M223.8 482.91h0.02M226.75 493.72h0.02M229.7 478.43h0.02M232.65 494.47h0.02M235.59 482.16h0.02M238.54 485.89h0.02M241.49 499.69h0.02M244.43 500.44h0.02M247.38 481.79h0.02M250.33 479.93h0.02M253.27 455.69h0.02M256.22 431.82h0.02M259.17 440.77h0.02M262.12 429.59h0.02M265.06 449.35h0.02M268.01 455.69h0.02M270.96 459.42h0.02M273.9 459.42h0.02M276.85 448.23h0.02M279.8 454.57h0.02M282.74 458.3h0.02M285.69 462.03h0.02M288.64 460.54h0.02M291.59 460.54h0.02M294.53 462.03h0.02M297.48 463.15h0.02M300.43 460.54h0.02M303.37 462.03h0.02M306.32 460.54h0.02M309.27 463.15h0.02M312.21 458.3h0.02M315.16 454.57h0.02M318.11 463.15h0.02M321.06 469.49h0.02M324 473.21h0.02M326.95 474.33h0.02M329.9 479.55h0.02M332.84 478.06h0.02M335.79 476.94h0.02M338.74 476.94h0.02" stroke="#6cb650" stroke-width="5.3" stroke-linecap="round"/></g>
<g clip-path="url(#cbl)"><path d="M44.05 468.74 46.99 467.62 49.94 466.5 52.89 465.38 55.84 465.01 58.78 465.38 61.73 466.5 64.68 437.04 67.62 461.65 70.57 462.77 73.52 466.5 76.46 468.74 79.41 469.86 82.36 469.86 85.31 469.86 88.25 469.86 91.2 469.86 94.15 469.86 97.09 469.86 100.04 469.86 102.99 467.62 105.93 463.89 108.88 468.74 111.83 467.62 114.78 466.5 117.72 467.62 120.67 468.74 123.62 469.11 126.56 469.11 129.51 469.11 132.46 469.49 135.4 469.49 138.35 469.86 141.3 468.74 144.25 468.74 147.19 468.74 150.14 428.84 153.09 469.86 156.03 468.74 158.98 451.21 161.93 467.62 164.87 468.74 167.82 468.74 170.77 468.74 173.72 468.74 176.66 468.74 179.61 468.74 182.56 468.74 185.5 468.74 188.45 468.74 191.4 467.62 194.34 458.3 197.29 468.74 200.24 468.74 203.19 468.74 206.13 468.74 209.08 468.74 212.03 468.74 214.97 468.74 217.92 418.4 220.87 444.13 223.81 467.62 226.76 469.11 229.71 460.91 232.66 467.99 235.6 468.74 238.55 468.37 241.5 469.49 244.44 468.37 247.39 466.88 250.34 469.49 253.28 469.49 256.23 446.74 259.18 465.76 262.12 449.35 265.07 466.88 268.02 469.49 270.97 470.6 273.91 469.49 276.86 469.49 279.81 469.49 282.75 469.49 285.7 469.49 288.65 469.49 291.6 469.49 294.54 469.49 297.49 469.49 300.44 469.49 303.38 469.49 306.33 469.49 309.28 469.49 312.22 468.37 315.17 455.69 318.12 468.37 321.07 468.37 324.01 466.88 326.96 468.37 329.91 468.37 332.85 469.49 335.8 468.37 338.75 466.88" fill="none" stroke="#f8d22f" stroke-width="1.9" stroke-linejoin="round"/>
<path d="M44.04 468.74h0.02M46.98 467.62h0.02M49.93 466.5h0.02M52.88 465.38h0.02M55.83 465.01h0.02M58.77 465.38h0.02M61.72 466.5h0.02M64.67 437.04h0.02M67.61 461.65h0.02M70.56 462.77h0.02M73.51 466.5h0.02M76.45 468.74h0.02M79.4 469.86h0.02M82.35 469.86h0.02M85.3 469.86h0.02M88.24 469.86h0.02M91.19 469.86h0.02M94.14 469.86h0.02M97.08 469.86h0.02M100.03 469.86h0.02M102.98 467.62h0.02M105.92 463.89h0.02M108.87 468.74h0.02M111.82 467.62h0.02M114.77 466.5h0.02M117.71 467.62h0.02M120.66 468.74h0.02M123.61 469.11h0.02M126.55 469.11h0.02M129.5 469.11h0.02M132.45 469.49h0.02M135.39 469.49h0.02M138.34 469.86h0.02M141.29 468.74h0.02M144.24 468.74h0.02M147.18 468.74h0.02M150.13 428.84h0.02M153.08 469.86h0.02M156.02 468.74h0.02M158.97 451.21h0.02M161.92 467.62h0.02M164.86 468.74h0.02M167.81 468.74h0.02M170.76 468.74h0.02M173.71 468.74h0.02M176.65 468.74h0.02M179.6 468.74h0.02M182.55 468.74h0.02M185.49 468.74h0.02M188.44 468.74h0.02M191.39 467.62h0.02M194.33 458.3h0.02M197.28 468.74h0.02M200.23 468.74h0.02M203.18 468.74h0.02M206.12 468.74h0.02M209.07 468.74h0.02M212.02 468.74h0.02M214.96 468.74h0.02M217.91 418.4h0.02M220.86 444.13h0.02M223.8 467.62h0.02M226.75 469.11h0.02M229.7 460.91h0.02M232.65 467.99h0.02M235.59 468.74h0.02M238.54 468.37h0.02M241.49 469.49h0.02M244.43 468.37h0.02M247.38 466.88h0.02M250.33 469.49h0.02M253.27 469.49h0.02M256.22 446.74h0.02M259.17 465.76h0.02M262.12 449.35h0.02M265.06 466.88h0.02M268.01 469.49h0.02M270.96 470.6h0.02M273.9 469.49h0.02M276.85 469.49h0.02M279.8 469.49h0.02M282.74 469.49h0.02M285.69 469.49h0.02M288.64 469.49h0.02M291.59 469.49h0.02M294.53 469.49h0.02M297.48 469.49h0.02M300.43 469.49h0.02M303.37 469.49h0.02M306.32 469.49h0.02M309.27 469.49h0.02M312.21 468.37h0.02M315.16 455.69h0.02M318.11 468.37h0.02M321.06 468.37h0.02M324 466.88h0.02M326.95 468.37h0.02M329.9 468.37h0.02M332.84 469.49h0.02M335.79 468.37h0.02M338.74 466.88h0.02" stroke="#f8d22f" stroke-width="5.3" stroke-linecap="round"/></g>
<path d="M41.1 298.5V560.1H341.69" fill="none" stroke="#000" stroke-width="1.45"/>
<path d="M41.1 560.1h-6.4M41.1 522.81h-6.4M41.1 485.52h-6.4M41.1 448.23h-6.4M41.1 410.94h-6.4M41.1 373.65h-6.4M41.1 336.36h-6.4M41.1 299.07h-6.4M41.1 541.46h-3.2M41.1 504.17h-3.2M41.1 466.88h-3.2M41.1 429.59h-3.2M41.1 392.3h-3.2M41.1 355h-3.2M41.1 317.72h-3.2M41.1 560.1v6.8M100.04 560.1v6.8M158.98 560.1v6.8M217.92 560.1v6.8M276.86 560.1v6.8M335.8 560.1v6.8M70.57 560.1v3.2M129.51 560.1v3.2M188.45 560.1v3.2M247.39 560.1v3.2M306.33 560.1v3.2" stroke="#000" stroke-width="1.45"/>
<text x="29.4" y="564.7" text-anchor="end" class="t">0</text>
<text x="29.4" y="527.41" text-anchor="end" class="t">1</text>
<text x="29.4" y="490.12" text-anchor="end" class="t">2</text>
<text x="29.4" y="452.83" text-anchor="end" class="t">3</text>
<text x="29.4" y="415.54" text-anchor="end" class="t">4</text>
<text x="29.4" y="378.25" text-anchor="end" class="t">5</text>
<text x="29.4" y="340.96" text-anchor="end" class="t">6</text>
<text x="29.4" y="303.67" text-anchor="end" class="t">7</text>
<text x="41.1" y="582.1" text-anchor="middle" class="t">0</text>
<text x="100.04" y="582.1" text-anchor="middle" class="t">20</text>
<text x="158.98" y="582.1" text-anchor="middle" class="t">40</text>
<text x="217.92" y="582.1" text-anchor="middle" class="t">60</text>
<text x="276.86" y="582.1" text-anchor="middle" class="t">80</text>
<text x="335.8" y="582.1" text-anchor="middle" class="t">100</text>
<text transform="translate(14.2 429.4) rotate(-90)" text-anchor="middle" class="yl">As (µg/L)</text>
<text x="191.4" y="598.7" text-anchor="middle" class="xl">Number</text>
<path d="M46.6 311.1H76.1" stroke="#17afd3" stroke-width="1.6"/>
<circle cx="61.3" cy="311.1" r="2.1" fill="#17afd3"/>
<text x="78.8" y="315.9" class="lg">Measured</text>
<path d="M46.6 327.1H76.1" stroke="#f84656" stroke-width="1.6"/>
<circle cx="61.3" cy="327.1" r="2.1" fill="#f84656"/>
<text x="78.8" y="331.7" class="lg">WNN<tspan class="sub" dy="2.8">1</tspan></text>
<path d="M46.6 345H76.1" stroke="#6cb650" stroke-width="1.6"/>
<circle cx="61.3" cy="345" r="2.1" fill="#6cb650"/>
<text x="78.8" y="349.6" class="lg">WNN<tspan class="sub" dy="2.8">2</tspan></text>
<path d="M46.6 362.9H76.1" stroke="#f8d22f" stroke-width="1.6"/>
<circle cx="61.3" cy="362.9" r="2.1" fill="#f8d22f"/>
<text x="78.8" y="367.5" class="lg">WNN<tspan class="sub" dy="2.8">3</tspan></text>
<path d="M378.4 299.4H679.39V560.1" fill="none" stroke="#eeeeee" stroke-width="1.4"/>
<g clip-path="url(#cbr)"><path d="M381.35 463.15 384.29 459.42 387.24 466.88 390.19 470.23 393.13 468.74 396.08 468.74 399.03 471.35 401.98 444.5 404.92 466.5 407.87 485.52 410.82 488.88 413.76 491.11 416.71 500.44 419.66 500.44 422.6 493.35 425.55 486.27 428.5 481.79 431.45 486.27 434.39 484.03 437.34 481.79 440.29 451.21 443.23 446.37 446.18 474.71 449.13 456.43 452.07 450.09 455.02 451.21 457.97 463.15 460.92 464.26 463.86 470.23 466.81 522.81 469.76 470.23 472.7 470.23 475.65 474.71 478.6 467.62 481.54 466.5 484.49 474.71 487.44 343.82 490.39 460.54 493.33 464.26 496.28 392.3 499.23 432.57 502.17 418.77 505.12 413.92 508.07 422.13 511.01 440.77 513.96 433.69 516.91 451.21 519.86 463.15 522.8 462.03 525.75 458.67 528.7 448.23 531.64 444.5 534.59 464.26 537.54 468.74 540.49 474.71 543.43 471.35 546.38 467.62 549.33 474.33 552.27 467.62 555.22 384.84 558.17 422.13 561.11 466.88 564.06 474.33 567.01 447.48 569.95 455.69 572.9 488.5 575.85 478.43 578.8 477.32 581.74 534 584.69 473.21 587.64 465.76 590.58 451.96 593.53 395.65 596.48 437.04 599.42 418.4 602.37 445.99 605.32 451.59 608.27 470.6 611.21 467.25 614.16 463.15 617.11 467.25 620.05 463.15 623 470.23 625.95 477.69 628.89 474.33 631.84 477.69 634.79 477.69 637.74 485.52 640.68 485.89 643.63 485.89 646.58 478.43 649.52 475.82 652.47 458.3 655.42 477.32 658.37 466.88 661.31 468.74 664.26 482.16 667.21 474.33 670.15 489.62 673.1 493.35 676.05 478.43" fill="none" stroke="#17afd3" stroke-width="1.9" stroke-linejoin="round"/>
<path d="M381.34 463.15h0.02M384.28 459.42h0.02M387.23 466.88h0.02M390.18 470.23h0.02M393.12 468.74h0.02M396.07 468.74h0.02M399.02 471.35h0.02M401.97 444.5h0.02M404.91 466.5h0.02M407.86 485.52h0.02M410.81 488.88h0.02M413.75 491.11h0.02M416.7 500.44h0.02M419.65 500.44h0.02M422.59 493.35h0.02M425.54 486.27h0.02M428.49 481.79h0.02M431.44 486.27h0.02M434.38 484.03h0.02M437.33 481.79h0.02M440.28 451.21h0.02M443.22 446.37h0.02M446.17 474.71h0.02M449.12 456.43h0.02M452.06 450.09h0.02M455.01 451.21h0.02M457.96 463.15h0.02M460.91 464.26h0.02M463.85 470.23h0.02M466.8 522.81h0.02M469.75 470.23h0.02M472.69 470.23h0.02M475.64 474.71h0.02M478.59 467.62h0.02M481.53 466.5h0.02M484.48 474.71h0.02M487.43 343.82h0.02M490.38 460.54h0.02M493.32 464.26h0.02M496.27 392.3h0.02M499.22 432.57h0.02M502.16 418.77h0.02M505.11 413.92h0.02M508.06 422.13h0.02M511 440.77h0.02M513.95 433.69h0.02M516.9 451.21h0.02M519.85 463.15h0.02M522.79 462.03h0.02M525.74 458.67h0.02M528.69 448.23h0.02M531.63 444.5h0.02M534.58 464.26h0.02M537.53 468.74h0.02M540.48 474.71h0.02M543.42 471.35h0.02M546.37 467.62h0.02M549.32 474.33h0.02M552.26 467.62h0.02M555.21 384.84h0.02M558.16 422.13h0.02M561.1 466.88h0.02M564.05 474.33h0.02M567 447.48h0.02M569.94 455.69h0.02M572.89 488.5h0.02M575.84 478.43h0.02M578.79 477.32h0.02M581.73 534h0.02M584.68 473.21h0.02M587.63 465.76h0.02M590.57 451.96h0.02M593.52 395.65h0.02M596.47 437.04h0.02M599.41 418.4h0.02M602.36 445.99h0.02M605.31 451.59h0.02M608.26 470.6h0.02M611.2 467.25h0.02M614.15 463.15h0.02M617.1 467.25h0.02M620.04 463.15h0.02M622.99 470.23h0.02M625.94 477.69h0.02M628.88 474.33h0.02M631.83 477.69h0.02M634.78 477.69h0.02M637.73 485.52h0.02M640.67 485.89h0.02M643.62 485.89h0.02M646.57 478.43h0.02M649.51 475.82h0.02M652.46 458.3h0.02M655.41 477.32h0.02M658.36 466.88h0.02M661.3 468.74h0.02M664.25 482.16h0.02M667.2 474.33h0.02M670.14 489.62h0.02M673.09 493.35h0.02M676.04 478.43h0.02" stroke="#17afd3" stroke-width="5.3" stroke-linecap="round"/></g>
<g clip-path="url(#cbr)"><path d="M381.35 468.74 384.29 469.86 387.24 475.82 390.19 476.94 393.13 478.06 396.08 479.18 399.03 487.38 401.98 444.13 404.92 480.3 407.87 481.42 410.82 489.99 413.76 489.25 416.71 487.38 419.66 489.25 422.6 512 425.55 481.42 428.5 470.98 431.45 483.66 434.39 487.38 437.34 481.79 440.29 455.69 443.23 451.96 446.18 450.09 449.13 448.98 452.07 444.13 455.02 450.09 457.97 455.69 460.92 461.65 463.86 468.74 466.81 471.35 469.76 472.47 472.7 479.18 475.65 487.38 478.6 478.06 481.54 476.2 484.49 468.74 487.44 394.53 490.39 450.09 493.33 457.55 496.28 422.13 499.23 444.13 502.17 443.01 505.12 451.21 508.07 454.57 511.01 460.54 513.96 463.89 516.91 466.5 519.86 472.1 522.8 480.3 525.75 478.06 528.7 476.94 531.64 468.74 534.59 476.94 537.54 493.35 540.49 504.91 543.43 513.11 546.38 523.18 549.33 516.84 552.27 510.88 555.22 448.23 558.17 459.42 561.11 488.5 564.06 495.59 567.01 478.06 569.95 489.99 572.9 483.66 575.85 487.01 578.8 490.74 581.74 478.06 584.69 466.88 587.64 508.27 590.58 453.08 593.53 425.48 596.48 429.59 599.42 420.64 602.37 451.96 605.32 468.37 608.27 465.76 611.21 455.69 614.16 448.23 617.11 453.82 620.05 455.69 623 456.81 625.95 455.69 628.89 458.3 631.84 460.91 634.79 463.15 637.74 463.15 640.68 464.26 643.63 462.03 646.58 459.42 649.52 448.23 652.47 421.75 655.42 450.09 658.37 449.35 661.31 449.35 664.26 451.96 667.21 453.82 670.15 455.69 673.1 451.96 676.05 450.84" fill="none" stroke="#f84656" stroke-width="1.9" stroke-linejoin="round"/>
<path d="M381.34 468.74h0.02M384.28 469.86h0.02M387.23 475.82h0.02M390.18 476.94h0.02M393.12 478.06h0.02M396.07 479.18h0.02M399.02 487.38h0.02M401.97 444.13h0.02M404.91 480.3h0.02M407.86 481.42h0.02M410.81 489.99h0.02M413.75 489.25h0.02M416.7 487.38h0.02M419.65 489.25h0.02M422.59 512h0.02M425.54 481.42h0.02M428.49 470.98h0.02M431.44 483.66h0.02M434.38 487.38h0.02M437.33 481.79h0.02M440.28 455.69h0.02M443.22 451.96h0.02M446.17 450.09h0.02M449.12 448.98h0.02M452.06 444.13h0.02M455.01 450.09h0.02M457.96 455.69h0.02M460.91 461.65h0.02M463.85 468.74h0.02M466.8 471.35h0.02M469.75 472.47h0.02M472.69 479.18h0.02M475.64 487.38h0.02M478.59 478.06h0.02M481.53 476.2h0.02M484.48 468.74h0.02M487.43 394.53h0.02M490.38 450.09h0.02M493.32 457.55h0.02M496.27 422.13h0.02M499.22 444.13h0.02M502.16 443.01h0.02M505.11 451.21h0.02M508.06 454.57h0.02M511 460.54h0.02M513.95 463.89h0.02M516.9 466.5h0.02M519.85 472.1h0.02M522.79 480.3h0.02M525.74 478.06h0.02M528.69 476.94h0.02M531.63 468.74h0.02M534.58 476.94h0.02M537.53 493.35h0.02M540.48 504.91h0.02M543.42 513.11h0.02M546.37 523.18h0.02M549.32 516.84h0.02M552.26 510.88h0.02M555.21 448.23h0.02M558.16 459.42h0.02M561.1 488.5h0.02M564.05 495.59h0.02M567 478.06h0.02M569.94 489.99h0.02M572.89 483.66h0.02M575.84 487.01h0.02M578.79 490.74h0.02M581.73 478.06h0.02M584.68 466.88h0.02M587.63 508.27h0.02M590.57 453.08h0.02M593.52 425.48h0.02M596.47 429.59h0.02M599.41 420.64h0.02M602.36 451.96h0.02M605.31 468.37h0.02M608.26 465.76h0.02M611.2 455.69h0.02M614.15 448.23h0.02M617.1 453.82h0.02M620.04 455.69h0.02M622.99 456.81h0.02M625.94 455.69h0.02M628.88 458.3h0.02M631.83 460.91h0.02M634.78 463.15h0.02M637.73 463.15h0.02M640.67 464.26h0.02M643.62 462.03h0.02M646.57 459.42h0.02M649.51 448.23h0.02M652.46 421.75h0.02M655.41 450.09h0.02M658.36 449.35h0.02M661.3 449.35h0.02M664.25 451.96h0.02M667.2 453.82h0.02M670.14 455.69h0.02M673.09 451.96h0.02M676.04 450.84h0.02" stroke="#f84656" stroke-width="5.3" stroke-linecap="round"/></g>
<g clip-path="url(#cbr)"><path d="M381.35 472.47 384.29 473.59 387.24 480.3 390.19 474.33 393.13 472.1 396.08 473.21 399.03 475.82 401.98 430.33 404.92 459.42 407.87 463.15 410.82 480.3 413.76 484.4 416.71 488.5 419.66 489.99 422.6 488.5 425.55 492.61 428.5 494.1 431.45 488.5 434.39 487.38 437.34 480.67 440.29 457.18 443.23 451.21 446.18 448.98 449.13 445.25 452.07 438.16 455.02 443.01 457.97 451.21 460.92 451.21 463.86 452.33 466.81 451.21 469.76 449.72 472.7 457.93 475.65 462.4 478.6 458.67 481.54 455.69 484.49 452.7 487.44 391.55 490.39 437.04 493.33 437.04 496.28 407.96 499.23 432.57 502.17 438.16 505.12 438.16 508.07 439.28 511.01 440.77 513.96 443.01 516.91 447.86 519.86 454.57 522.8 457.18 525.75 452.33 528.7 446.37 531.64 422.13 534.59 444.13 537.54 445.25 540.49 446.37 543.43 457.18 546.38 466.88 549.33 474.71 552.27 468.74 555.22 406.84 558.17 443.76 561.11 459.42 564.06 463.15 567.01 439.65 569.95 454.57 572.9 454.94 575.85 458.3 578.8 465.01 581.74 467.99 584.69 459.04 587.64 465.01 590.58 455.69 593.53 425.48 596.48 431.45 599.42 419.52 602.37 440.77 605.32 453.08 608.27 454.2 611.21 453.08 614.16 439.28 617.11 446.74 620.05 450.84 623 455.69 625.95 454.57 628.89 459.42 631.84 463.15 634.79 465.76 637.74 468.37 640.68 469.49 643.63 470.6 646.58 472.47 649.52 466.88 652.47 445.62 655.42 453.08 658.37 458.3 661.31 460.54 664.26 463.15 667.21 465.76 670.15 465.76 673.1 462.03 676.05 459.42" fill="none" stroke="#6cb650" stroke-width="1.9" stroke-linejoin="round"/>
<path d="M381.34 472.47h0.02M384.28 473.59h0.02M387.23 480.3h0.02M390.18 474.33h0.02M393.12 472.1h0.02M396.07 473.21h0.02M399.02 475.82h0.02M401.97 430.33h0.02M404.91 459.42h0.02M407.86 463.15h0.02M410.81 480.3h0.02M413.75 484.4h0.02M416.7 488.5h0.02M419.65 489.99h0.02M422.59 488.5h0.02M425.54 492.61h0.02M428.49 494.1h0.02M431.44 488.5h0.02M434.38 487.38h0.02M437.33 480.67h0.02M440.28 457.18h0.02M443.22 451.21h0.02M446.17 448.98h0.02M449.12 445.25h0.02M452.06 438.16h0.02M455.01 443.01h0.02M457.96 451.21h0.02M460.91 451.21h0.02M463.85 452.33h0.02M466.8 451.21h0.02M469.75 449.72h0.02M472.69 457.93h0.02M475.64 462.4h0.02M478.59 458.67h0.02M481.53 455.69h0.02M484.48 452.7h0.02M487.43 391.55h0.02M490.38 437.04h0.02M493.32 437.04h0.02M496.27 407.96h0.02M499.22 432.57h0.02M502.16 438.16h0.02M505.11 438.16h0.02M508.06 439.28h0.02M511 440.77h0.02M513.95 443.01h0.02M516.9 447.86h0.02M519.85 454.57h0.02M522.79 457.18h0.02M525.74 452.33h0.02M528.69 446.37h0.02M531.63 422.13h0.02M534.58 444.13h0.02M537.53 445.25h0.02M540.48 446.37h0.02M543.42 457.18h0.02M546.37 466.88h0.02M549.32 474.71h0.02M552.26 468.74h0.02M555.21 406.84h0.02M558.16 443.76h0.02M561.1 459.42h0.02M564.05 463.15h0.02M567 439.65h0.02M569.94 454.57h0.02M572.89 454.94h0.02M575.84 458.3h0.02M578.79 465.01h0.02M581.73 467.99h0.02M584.68 459.04h0.02M587.63 465.01h0.02M590.57 455.69h0.02M593.52 425.48h0.02M596.47 431.45h0.02M599.41 419.52h0.02M602.36 440.77h0.02M605.31 453.08h0.02M608.26 454.2h0.02M611.2 453.08h0.02M614.15 439.28h0.02M617.1 446.74h0.02M620.04 450.84h0.02M622.99 455.69h0.02M625.94 454.57h0.02M628.88 459.42h0.02M631.83 463.15h0.02M634.78 465.76h0.02M637.73 468.37h0.02M640.67 469.49h0.02M643.62 470.6h0.02M646.57 472.47h0.02M649.51 466.88h0.02M652.46 445.62h0.02M655.41 453.08h0.02M658.36 458.3h0.02M661.3 460.54h0.02M664.25 463.15h0.02M667.2 465.76h0.02M670.14 465.76h0.02M673.09 462.03h0.02M676.04 459.42h0.02" stroke="#6cb650" stroke-width="5.3" stroke-linecap="round"/></g>
<g clip-path="url(#cbr)"><path d="M381.35 470.98 384.29 468.74 387.24 476.94 390.19 468.74 393.13 467.62 396.08 468.74 399.03 470.98 401.98 424.36 404.92 450.09 407.87 446.37 410.82 462.77 413.76 465.01 416.71 469.86 419.66 470.98 422.6 472.1 425.55 475.82 428.5 475.82 431.45 475.82 434.39 474.71 437.34 473.21 440.29 458.3 443.23 455.69 446.18 465.01 449.13 460.54 452.07 459.42 455.02 463.15 457.97 466.5 460.92 467.62 463.86 467.62 466.81 468.74 469.76 467.62 472.7 475.82 475.65 480.3 478.6 485.15 481.54 486.27 484.49 484.03 487.44 424.36 490.39 487.38 493.33 474.71 496.28 443.01 499.23 469.86 502.17 462.77 505.12 470.98 508.07 470.98 511.01 472.1 513.96 473.59 516.91 474.71 519.86 468.74 522.8 473.59 525.75 469.86 528.7 472.1 531.64 444.13 534.59 466.5 537.54 470.6 540.49 476.94 543.43 481.42 546.38 491.11 549.33 497.83 552.27 495.59 555.22 430.33 558.17 452.33 561.11 474.33 564.06 480.3 567.01 458.3 569.95 473.59 572.9 472.47 575.85 473.21 578.8 473.21 581.74 475.45 584.69 466.88 587.64 476.94 590.58 475.82 593.53 439.28 596.48 466.88 599.42 448.23 602.37 472.1 605.32 480.67 608.27 480.67 611.21 480.67 614.16 464.64 617.11 470.6 620.05 471.72 623 473.21 625.95 468.37 628.89 468.37 631.84 470.6 634.79 473.21 637.74 474.33 640.68 476.94 643.63 482.16 646.58 476.94 649.52 476.94 652.47 454.57 655.42 475.82 658.37 475.82 661.31 468.37 664.26 470.6 667.21 473.21 670.15 476.94 673.1 474.33 676.05 472.1" fill="none" stroke="#f8d22f" stroke-width="1.9" stroke-linejoin="round"/>
<path d="M381.34 470.98h0.02M384.28 468.74h0.02M387.23 476.94h0.02M390.18 468.74h0.02M393.12 467.62h0.02M396.07 468.74h0.02M399.02 470.98h0.02M401.97 424.36h0.02M404.91 450.09h0.02M407.86 446.37h0.02M410.81 462.77h0.02M413.75 465.01h0.02M416.7 469.86h0.02M419.65 470.98h0.02M422.59 472.1h0.02M425.54 475.82h0.02M428.49 475.82h0.02M431.44 475.82h0.02M434.38 474.71h0.02M437.33 473.21h0.02M440.28 458.3h0.02M443.22 455.69h0.02M446.17 465.01h0.02M449.12 460.54h0.02M452.06 459.42h0.02M455.01 463.15h0.02M457.96 466.5h0.02M460.91 467.62h0.02M463.85 467.62h0.02M466.8 468.74h0.02M469.75 467.62h0.02M472.69 475.82h0.02M475.64 480.3h0.02M478.59 485.15h0.02M481.53 486.27h0.02M484.48 484.03h0.02M487.43 424.36h0.02M490.38 487.38h0.02M493.32 474.71h0.02M496.27 443.01h0.02M499.22 469.86h0.02M502.16 462.77h0.02M505.11 470.98h0.02M508.06 470.98h0.02M511 472.1h0.02M513.95 473.59h0.02M516.9 474.71h0.02M519.85 468.74h0.02M522.79 473.59h0.02M525.74 469.86h0.02M528.69 472.1h0.02M531.63 444.13h0.02M534.58 466.5h0.02M537.53 470.6h0.02M540.48 476.94h0.02M543.42 481.42h0.02M546.37 491.11h0.02M549.32 497.83h0.02M552.26 495.59h0.02M555.21 430.33h0.02M558.16 452.33h0.02M561.1 474.33h0.02M564.05 480.3h0.02M567 458.3h0.02M569.94 473.59h0.02M572.89 472.47h0.02M575.84 473.21h0.02M578.79 473.21h0.02M581.73 475.45h0.02M584.68 466.88h0.02M587.63 476.94h0.02M590.57 475.82h0.02M593.52 439.28h0.02M596.47 466.88h0.02M599.41 448.23h0.02M602.36 472.1h0.02M605.31 480.67h0.02M608.26 480.67h0.02M611.2 480.67h0.02M614.15 464.64h0.02M617.1 470.6h0.02M620.04 471.72h0.02M622.99 473.21h0.02M625.94 468.37h0.02M628.88 468.37h0.02M631.83 470.6h0.02M634.78 473.21h0.02M637.73 474.33h0.02M640.67 476.94h0.02M643.62 482.16h0.02M646.57 476.94h0.02M649.51 476.94h0.02M652.46 454.57h0.02M655.41 475.82h0.02M658.36 475.82h0.02M661.3 468.37h0.02M664.25 470.6h0.02M667.2 473.21h0.02M670.14 476.94h0.02M673.09 474.33h0.02M676.04 472.1h0.02" stroke="#f8d22f" stroke-width="5.3" stroke-linecap="round"/></g>
<path d="M378.4 298.5V560.1H678.99" fill="none" stroke="#000" stroke-width="1.45"/>
<path d="M378.4 560.1h-6.4M378.4 522.81h-6.4M378.4 485.52h-6.4M378.4 448.23h-6.4M378.4 410.94h-6.4M378.4 373.65h-6.4M378.4 336.36h-6.4M378.4 299.07h-6.4M378.4 541.46h-3.2M378.4 504.17h-3.2M378.4 466.88h-3.2M378.4 429.59h-3.2M378.4 392.3h-3.2M378.4 355h-3.2M378.4 317.72h-3.2M378.4 560.1v6.8M437.34 560.1v6.8M496.28 560.1v6.8M555.22 560.1v6.8M614.16 560.1v6.8M673.1 560.1v6.8M407.87 560.1v3.2M466.81 560.1v3.2M525.75 560.1v3.2M584.69 560.1v3.2M643.63 560.1v3.2" stroke="#000" stroke-width="1.45"/>
<text x="366.7" y="564.7" text-anchor="end" class="t">0</text>
<text x="366.7" y="527.41" text-anchor="end" class="t">1</text>
<text x="366.7" y="490.12" text-anchor="end" class="t">2</text>
<text x="366.7" y="452.83" text-anchor="end" class="t">3</text>
<text x="366.7" y="415.54" text-anchor="end" class="t">4</text>
<text x="366.7" y="378.25" text-anchor="end" class="t">5</text>
<text x="366.7" y="340.96" text-anchor="end" class="t">6</text>
<text x="366.7" y="303.67" text-anchor="end" class="t">7</text>
<text x="378.4" y="582.1" text-anchor="middle" class="t">0</text>
<text x="437.34" y="582.1" text-anchor="middle" class="t">20</text>
<text x="496.28" y="582.1" text-anchor="middle" class="t">40</text>
<text x="555.22" y="582.1" text-anchor="middle" class="t">60</text>
<text x="614.16" y="582.1" text-anchor="middle" class="t">80</text>
<text x="673.1" y="582.1" text-anchor="middle" class="t">100</text>
<text x="528.7" y="598.7" text-anchor="middle" class="xl">Number</text>
<path d="M383.9 311.1H413.4" stroke="#17afd3" stroke-width="1.6"/>
<circle cx="398.6" cy="311.1" r="2.1" fill="#17afd3"/>
<text x="416.1" y="315.9" class="lg">Measured</text>
<path d="M383.9 327.1H413.4" stroke="#f84656" stroke-width="1.6"/>
<circle cx="398.6" cy="327.1" r="2.1" fill="#f84656"/>
<text x="416.1" y="331.7" class="lg">WNARX<tspan class="sub" dy="2.8">1</tspan></text>
<path d="M383.9 345H413.4" stroke="#6cb650" stroke-width="1.6"/>
<circle cx="398.6" cy="345" r="2.1" fill="#6cb650"/>
<text x="416.1" y="349.6" class="lg">WNARX<tspan class="sub" dy="2.8">2</tspan></text>
<path d="M383.9 362.9H413.4" stroke="#f8d22f" stroke-width="1.6"/>
<circle cx="398.6" cy="362.9" r="2.1" fill="#f8d22f"/>
<text x="416.1" y="367.5" class="lg">WNARX<tspan class="sub" dy="2.8">3</tspan></text>
</svg>
</body></html>
